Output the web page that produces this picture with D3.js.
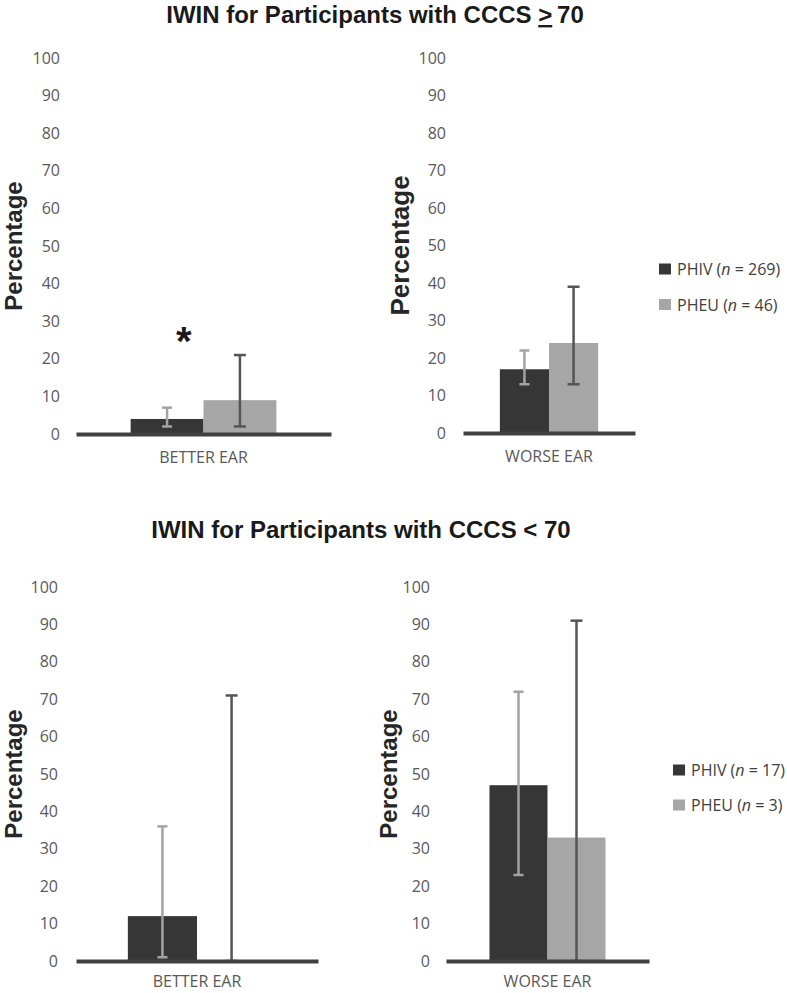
<!DOCTYPE html>
<html>
<head>
<meta charset="utf-8">
<script src="https://cdn.jsdelivr.net/npm/d3@7"></script>
<style>
  body { margin: 0; background: #fff; }
  svg { display: block; }
  .tick text { font-family: "Open Sans", sans-serif; fill: #595959; }
  .title { font-family: "Liberation Sans", Arial, sans-serif; font-weight: bold; fill: #1a1a1a; }
  .ylabel { font-family: "Liberation Sans", Arial, sans-serif; font-weight: bold; fill: #262626; }
  .legend text { font-family: "Open Sans", sans-serif; fill: #404040; }
</style>
</head>
<body>
<div id="chart"></div>
<script>
// groups and sample sizes
const groups = ['PHIV', 'PHEU'];
const highN = [269, 46];
const lowN = [17, 3];
const yTicks = [0, 10, 20, 30, 40, 50, 60, 70, 80, 90, 100];

// CCCS >= 70
const highBetter = [4, 9];
const highBetterErr = [[2, 7], [2, 21]];
const highWorse = [17, 24];
const highWorseErr = [[13, 22], [13, 39]];

// CCCS < 70
const lowBetter = [12, 0];
const lowBetterErr = [[1, 36], [0, 71]];
const lowWorse = [47, 33];
const lowWorseErr = [[23, 72], [0, 91]];

const barColor = { PHIV: '#363636', PHEU: '#a6a6a6' };
const errColor = { PHIV: '#a3a3a3', PHEU: '#555555' };

const svg = d3.select('#chart').append('svg')
    .attr('width', 787).attr('height', 993);

function drawPanel(p) {
    let y = d3.scaleLinear().domain([0, 100]).range([p.yBase, p.yTop]);
    let x = d3.scaleBand().domain(groups).range([p.x0, p.x1])
        .paddingInner(0).paddingOuter(0.75);
    let xCat = d3.scaleBand().domain([p.category]).range([p.x0, p.x1]);
    let g = svg.append('g');

    // y tick labels only
    g.append('g').attr('transform', `translate(${p.tickX},0)`)
        .call(d3.axisLeft(y).tickValues(yTicks).tickSize(0).tickPadding(0))
        .call(a => a.select('.domain').remove())
        .selectAll('text').style('font-size', '16px');

    g.append('text').classed('ylabel', true)
        .attr('transform', `translate(${p.labelX},${(p.yTop + p.yBase) / 2}) rotate(-90)`)
        .attr('text-anchor', 'middle').attr('dominant-baseline', 'central')
        .style('font-size', p.labelSize + 'px')
        .text('Percentage');

    let rows = groups.map((k, i) => ({ key: k, value: p.values[i], lo: p.errs[i][0], hi: p.errs[i][1] }));

    g.selectAll('rect.bar').data(rows.filter(d => d.value > 0)).join('rect')
        .classed('bar', true)
        .attr('x', d => x(d.key)).attr('width', x.bandwidth())
        .attr('y', d => y(d.value)).attr('height', d => y(0) - y(d.value))
        .attr('fill', d => barColor[d.key]);

    // error bars
    let eb = g.selectAll('g.err').data(rows).join('g').classed('err', true)
        .attr('stroke', d => errColor[d.key]).attr('stroke-width', 2.5);
    let cx = d => x(d.key) + x.bandwidth() / 2;
    let cap = d => d.key == 'PHIV' ? 5 : 6;
    eb.append('line').attr('x1', cx).attr('x2', cx)
        .attr('y1', d => y(d.lo)).attr('y2', d => y(d.hi));
    eb.append('line').attr('x1', d => cx(d) - cap(d)).attr('x2', d => cx(d) + cap(d))
        .attr('y1', d => y(d.hi)).attr('y2', d => y(d.hi));
    eb.append('line').attr('x1', d => cx(d) - cap(d)).attr('x2', d => cx(d) + cap(d))
        .attr('y1', d => y(d.lo)).attr('y2', d => y(d.lo));

    // baseline + category label
    g.append('g').attr('transform', `translate(0,${p.yBase})`)
        .call(d3.axisBottom(xCat).tickSize(0).tickSizeOuter(0).tickPadding(p.catPad))
        .call(a => a.select('.domain').attr('stroke', '#404040').attr('stroke-width', 4))
        .selectAll('text').style('font-size', '16px');

    if (p.star) {
        g.append('text').attr('x', x('PHIV') + x.bandwidth() * 0.73).attr('y', y(p.star))
            .attr('text-anchor', 'middle')
            .style('font-family', 'Liberation Sans, Arial, sans-serif')
            .style('font-weight', 'bold').style('font-size', '40px').attr('fill', '#1a1a1a')
            .text('*');
    }
}

function drawLegend(x0, yc, gap, ns, fontSize) {
    let lg = svg.append('g').classed('legend', true);
    let items = lg.selectAll('g').data(groups).join('g')
        .attr('transform', (d, i) => `translate(${x0},${yc + i * gap})`);
    items.append('rect').attr('x', 0).attr('y', -5.5).attr('width', 12).attr('height', 11)
        .attr('fill', d => barColor[d]);
    let t = items.append('text').attr('x', 18).attr('dominant-baseline', 'central')
        .style('font-size', fontSize + 'px');
    t.append('tspan').text(d => d + ' (');
    t.append('tspan').style('font-style', 'italic').text('n');
    t.append('tspan').text((d, i) => ' = ' + ns[i] + ')');
}

// titles
let t1 = svg.append('text').classed('title', true).attr('x', 375).attr('y', 23)
    .attr('text-anchor', 'middle').style('font-size', '24px');
t1.append('tspan').text('IWIN for Participants with CCCS ');
t1.append('tspan').style('text-decoration', 'underline').text('>');
t1.append('tspan').text('\u200970');

svg.append('text').classed('title', true).attr('x', 361).attr('y', 538)
    .attr('text-anchor', 'middle').style('font-size', '24px')
    .text('IWIN for Participants with CCCS < 70');

drawPanel({ x0: 76, x1: 331, yTop: 58, yBase: 434, tickX: 60, labelX: 13, labelSize: 24, catPad: 18,
    category: 'BETTER EAR', values: highBetter, errs: highBetterErr, star: 21 });
drawPanel({ x0: 463, x1: 635, yTop: 58, yBase: 433, tickX: 446, labelX: 400, labelSize: 26, catPad: 18,
    category: 'WORSE EAR', values: highWorse, errs: highWorseErr });
drawPanel({ x0: 76, x1: 318, yTop: 587, yBase: 961, tickX: 58, labelX: 13, labelSize: 24, catPad: 15,
    category: 'BETTER EAR', values: lowBetter, errs: lowBetterErr });
drawPanel({ x0: 446, x1: 649, yTop: 587, yBase: 961, tickX: 430, labelX: 388, labelSize: 24, catPad: 15,
    category: 'WORSE EAR', values: lowWorse, errs: lowWorseErr });

drawLegend(659, 269, 35.5, highN, 16);
drawLegend(673, 770, 35, lowN, 16);
</script>
</body>
</html>
